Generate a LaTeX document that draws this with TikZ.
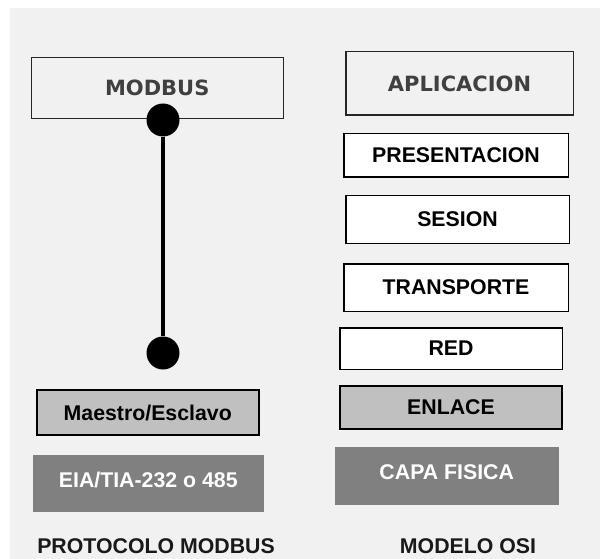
\documentclass[tikz,border=0pt]{standalone}
\usepackage{fontspec}
\setmainfont{Liberation Sans}
\newfontfamily\wideface{DejaVu Sans}
\usepackage{tikz}
\definecolor{panel}{HTML}{F1F1F1}
\definecolor{lightgrey}{HTML}{C0C0C0}
\definecolor{darkgrey}{HTML}{808080}
\definecolor{headtext}{HTML}{404040}
\pgfdeclarelayer{nodelayer}
\pgfdeclarelayer{edgelayer}
\pgfsetlayers{edgelayer,nodelayer,main}
\tikzstyle{box}=[fill=white, draw=black, shape=rectangle, line width=1.5pt, inner sep=0pt, font=\bfseries\fontsize{21.3}{24}\selectfont]
\tikzstyle{head box}=[box, draw=black!85, fill=panel, text=headtext, font=\wideface\bfseries\fontsize{21}{24}\selectfont]
\tikzstyle{grey box}=[box, fill=lightgrey, line width=2pt]
\tikzstyle{dark box}=[box, draw=none, fill=darkgrey, text=white, text depth=7pt]
\tikzstyle{dot}=[circle, fill=black, inner sep=0pt, minimum size=33pt]
\tikzstyle{link}=[line width=3.5pt]
\tikzstyle{caption}=[font=\bfseries\fontsize{21.3}{24}\selectfont, text=black!90]

\begin{document}
\begin{tikzpicture}[x=10pt, y=-10pt]
	\useasboundingbox (0, 0) rectangle (60, 55.9);
	\begin{pgfonlayer}{nodelayer}
		\node [style=head box, minimum width=252pt, minimum height=61pt] (0) at (15.725, 8.825) {MODBUS};
		\node [style=head box, minimum width=227.5pt, minimum height=63.5pt] (1) at (45.95, 8.35) {APLICACION};
		\node [style=box, minimum width=224.5pt, minimum height=43.5pt] (2) at (45.6, 15.55) {PRESENTACION};
		\node [style=box, minimum width=223.5pt, minimum height=47.5pt] (3) at (45.75, 21.95) {SESION};
		\node [style=box, minimum width=224.5pt, minimum height=47.5pt] (4) at (45.6, 28.75) {TRANSPORTE};
		\node [style=box, minimum width=222.5pt, minimum height=41.5pt] (5) at (45.1, 34.85) {RED};
		\node [style=grey box, minimum width=222pt, minimum height=43pt] (6) at (45.1, 40.75) {ENLACE};
		\node [style=dark box, minimum width=224.5pt, minimum height=58pt] (7) at (44.675, 47.6) {CAPA FISICA};
		\node [style=grey box, minimum width=221.5pt, minimum height=45pt] (8) at (14.775, 41.25) {Maestro/Esclavo};
		\node [style=dark box, minimum width=231.5pt, minimum height=57pt] (9) at (14.825, 48.35) {EIA/TIA-232 o 485};
		\node [style=dot] (10) at (16.3, 12.0) {};
		\node [style=dot] (11) at (16.3, 35.3) {};
		\node [style=caption] (12) at (15.6, 54.6) {PROTOCOLO MODBUS};
		\node [style=caption] (13) at (46.8, 54.6) {MODELO OSI};
	\end{pgfonlayer}
	\begin{pgfonlayer}{edgelayer}
		\fill [panel] (1, 0.8) rectangle (60, 55.9);
		\draw [style=link] (10) to (11);
	\end{pgfonlayer}
\end{tikzpicture}
\end{document}
